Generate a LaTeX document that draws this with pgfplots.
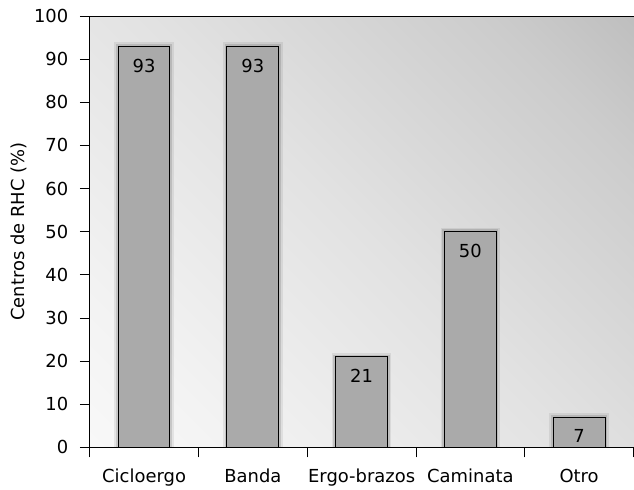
\documentclass[border=0pt]{standalone}
\usepackage{fontspec}
\setmainfont{DejaVu Sans}
\usepackage{pgfplots}
\pgfplotsset{compat=1.18}

\definecolor{barfill}{HTML}{AAAAAA}
\definecolor{bgA}{HTML}{F3F3F3}
\definecolor{bgB}{HTML}{E2E2E2}
\definecolor{bgC}{HTML}{CCCCCC}
\definecolor{bgD}{HTML}{ACACAC}
% diagonal background, white at bottom left, darker at top right
\pgfdeclarehorizontalshading{bgshade}{100bp}{color(0bp)=(white); color(25bp)=(bgA);
  color(50bp)=(bgB); color(75bp)=(bgC); color(100bp)=(bgD)}
\newcommand\chartfont{\fontsize{18bp}{21bp}\selectfont}

\pgfplotsset{/pgf/number format/assume math mode=true}

\begin{document}
\begin{tikzpicture}
\begin{axis}[
  scale only axis,
  width=546bp, height=433bp,
  xmin=0.5, xmax=5.5,
  ymin=0, ymax=100,
  axis x line*=box, axis y line*=left,
  axis line style={line width=1bp},
  xtick={0.5,1.5,...,4.5},
  xticklabels={Cicloergo,Banda,Ergo-brazos,Caminata,Otro},
  xticklabel style={xshift=54.6bp, yshift=-8bp},
  extra x ticks={5.5},
  extra x tick labels={},
  extra x tick style={xticklabel style={xshift=-54.6bp, inner sep=0pt}},
  xtick pos=bottom,
  ytick={0,10,...,100},
  yticklabel style={xshift=-8bp},
  tick align=outside,
  major tick length=10bp,
  tick style={line width=0.8bp, black},
  ticklabel style={font=\chartfont},
  ylabel={Centros de RHC (\%)},
  ylabel style={font=\chartfont},
  axis background/.style={shade, shading=bgshade, shading angle=45},
]
  % soft halo in place of the blurred shadow
  \addplot[ybar, bar width=0.476, fill=barfill, draw=black, line width=1bp,
    preaction={draw=black, draw opacity=0.07, line width=8bp},
    preaction={draw=black, draw opacity=0.12, line width=4.5bp},
    nodes near coords,
    nodes near coords style={anchor=north, yshift=-8.7bp, font=\chartfont, text=black}]
    coordinates {(1,93) (2,93) (3,21) (4,50) (5,7)};
\end{axis}
% white margins round the chart, as in the reference
\path ([xshift=-8bp]current axis.outer west);
\path ([yshift=6bp]current axis.outer north);
\end{tikzpicture}
\end{document}
